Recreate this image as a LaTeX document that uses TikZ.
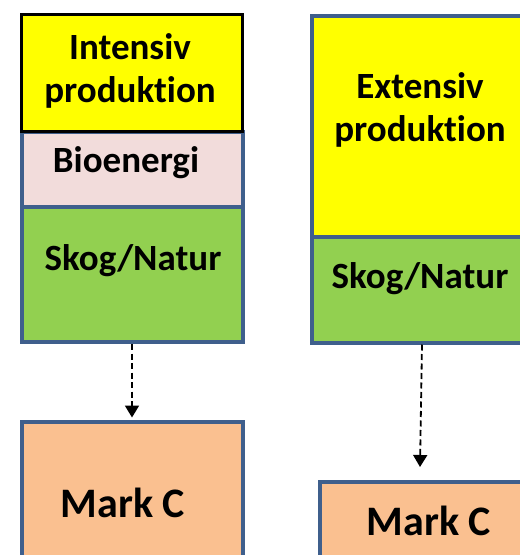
\documentclass[tikz,border=0pt]{standalone}
\usepackage{fontspec}
\setmainfont[Ligatures=NoCommon]{Carlito}
\usetikzlibrary{positioning,arrows.meta}
\definecolor{frameblue}{HTML}{3F5F8C}
\definecolor{prodYellow}{HTML}{FFFF00}
\definecolor{bioPink}{HTML}{F2DCDB}
\definecolor{skogGreen}{HTML}{92D050}
\definecolor{markOrange}{HTML}{FAC090}
\begin{document}
\begin{tikzpicture}[
    x=1pt, y=-1pt,
    box/.style={rectangle, draw=frameblue, line width=4pt, anchor=north west, inner sep=0pt, minimum width=221pt},
    lbl/.style={font=\bfseries\fontsize{37}{43}\selectfont, align=center, inner sep=0pt},
    big/.style={font=\bfseries\fontsize{42}{50}\selectfont, inner sep=0pt},
    flow/.style={-{Triangle[width=14pt,length=12pt]}, dash pattern=on 6pt off 3.5pt, line width=1.8pt}
]
    \useasboundingbox (0,0) rectangle (520,555);
    \clip (0,0) rectangle (520,555);

    % Intensive column
    \node[box, fill=bioPink, minimum height=74.5pt] (bio) at (19.5,130) {};
    \node[box, fill=skogGreen, minimum height=135.5pt] (skogL) at (19.5,204.5) {};
    \node[box, fill=prodYellow, draw=black, line width=3.3pt, minimum height=117.5pt] (intensiv) at (19.5,12.5) {};
    \node[box, fill=markOrange, minimum height=200pt] (markL) at (19.5,419.5) {};

    % Extensive column
    \node[box, fill=prodYellow, minimum height=220.5pt] (extensiv) at (309.5,14) {};
    \node[box, fill=skogGreen, minimum height=106pt] (skogR) at (309.5,234.5) {};
    \node[box, fill=markOrange, minimum height=200pt] (markR) at (318.3,479.5) {};

    % Labels
    \node[lbl, anchor=north] (tIntensiv) at (130,33) {Intensiv\\produktion};
    \node[lbl, anchor=base] (tBio) at (126,172) {Bioenergi};
    \node[lbl, anchor=base] (tSkogL) at (133,270) {Skog/Natur};
    \node[big, anchor=base] (tMarkL) at (123,517) {Mark C};
    \node[lbl, anchor=north] (tExtensiv) at (420,72) {Extensiv\\produktion};
    \node[lbl, anchor=base] (tSkogR) at (420,288) {Skog/Natur};
    \node[big, anchor=base] (tMarkR) at (429,535) {Mark C};

    % Arrows
    \coordinate (tipR) at (420,467);
    \draw[flow, shorten >=2pt] (skogL.south) -- (markL.north);
    \draw[flow] (skogR.south) -- (tipR);
\end{tikzpicture}
\end{document}
